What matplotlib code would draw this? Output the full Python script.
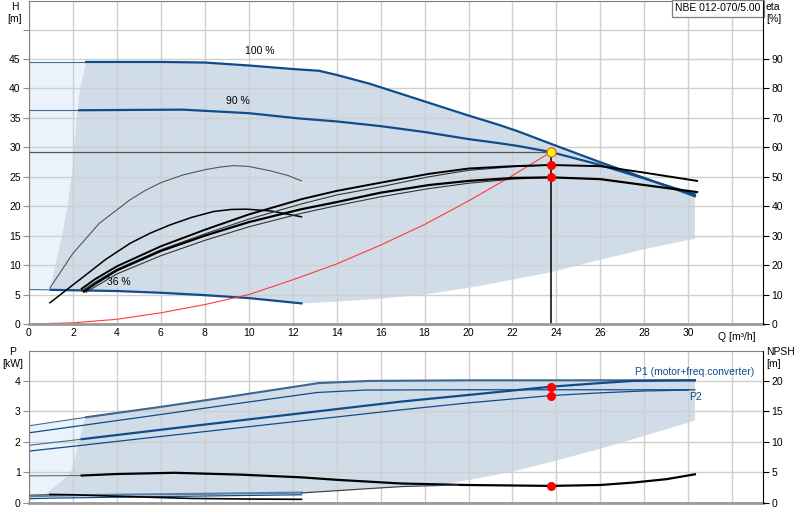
import numpy as np
import matplotlib
matplotlib.use("Agg")
import matplotlib.pyplot as plt

plt.rcParams["font.family"] = ["Liberation Sans", "DejaVu Sans"]
plt.rcParams["font.size"] = 7.5
plt.rcParams["lines.solid_joinstyle"] = "round"

# ── Head curves (Q in m³/h, H in m) ───────────────────────────────────────
q_100 = [0, 2.6, 6, 8, 10, 12, 13.2, 14, 15.5, 18, 20, 21.4, 22.3, 23.75, 25.9, 28, 30.3]
h_100 = [44.5, 44.5, 44.5, 44.4, 43.9, 43.3, 43.0, 42.3, 40.8, 37.8, 35.4, 33.8, 32.65, 30.6, 27.6, 24.8, 21.7]
q_90 = [0, 2.3, 7, 10, 12.3, 14, 16, 18, 20, 21.4, 22.3, 23.75, 25.9, 28, 30.3]
h_90 = [36.3, 36.3, 36.4, 35.8, 34.9, 34.4, 33.6, 32.6, 31.4, 30.7, 30.2, 29.2, 27.1, 24.7, 22.0]
q_36 = [0, 1, 4, 6, 8, 10, 12.4]
h_36 = [5.85, 5.8, 5.6, 5.3, 4.9, 4.4, 3.5]

# working range boundaries (H)
lb_q = [0.95, 1.2, 1.5, 1.75, 2.0, 2.05, 2.17, 2.32, 2.6]
lb_h = [6.0, 10, 15, 20, 27, 30, 35, 40, 44.5]
bot_q = [30.3, 28, 26, 23.75, 20.5, 18, 16, 14, 12.4]
bot_h = [14.5, 12.7, 10.9, 8.8, 6.45, 5.0, 4.3, 3.8, 3.5]

# system curve
q_sys = [0, 2, 4, 6, 8, 10, 12, 14, 16, 18, 20, 22, 23.75]
h_sys = [0, 0.2, 0.8, 1.9, 3.3, 5.0, 7.5, 10.2, 13.4, 16.9, 20.9, 25.2, 29.2]

# duty point
q_duty = 23.75
h_duty = 29.2

# ── Efficiency curves (eta in %) ──────────────────────────────────────────
q_e1 = [0.95, 2, 3.2, 4.6, 5.3, 6, 7, 8, 8.7, 9.3, 10, 11, 11.8, 12.4]
eta_e1 = [12.2, 24.0, 34.2, 42.2, 45.4, 48.0, 50.6, 52.4, 53.3, 53.8, 53.5, 52.0, 50.4, 48.6]
q_e2 = [0.95, 2.47, 3.5, 4.6, 5.5, 6.4, 7.4, 8.4, 9.2, 9.9, 11, 12.4]
eta_e2 = [7.2, 16.0, 22.0, 27.4, 30.8, 33.6, 36.2, 38.2, 38.9, 39.0, 38.4, 36.4]
q_ea = [2.4, 3, 4, 6, 8, 10, 12.4, 14, 16, 18.2, 20, 22, 23.75, 26, 28, 30.4]
eta_ea = [12.0, 15.2, 19.6, 26.4, 32.0, 37.2, 42.4, 45.2, 48.0, 51.0, 52.8, 53.6, 54.0, 53.6, 51.4, 48.6]
q_eb = [2.4, 3, 4, 6, 8, 10, 12.4, 14, 16, 18.2, 20, 22, 23.75]
eta_eb = [11.2, 14.2, 18.6, 25.2, 30.6, 35.6, 40.8, 43.8, 46.6, 50.0, 52.2, 53.4, 54.0]
q_ec = [2.5, 3, 4, 6, 8, 10, 12.4, 14, 16, 18.2, 20, 22, 23.75, 26, 28, 30.4]
eta_ec = [11.0, 13.6, 18.2, 24.8, 30.0, 34.6, 39.0, 41.4, 44.6, 47.2, 48.6, 49.6, 49.8, 49.2, 47.2, 44.8]
q_ed = [2.6, 3, 4, 6, 8, 10, 12.4, 14, 16, 18.2, 20, 22, 23.75]
eta_ed = [10.8, 12.6, 17.0, 23.2, 28.4, 33.0, 37.6, 40.2, 43.2, 46.0, 47.8, 49.2, 49.8]
eta_duty = [54.0, 49.8]

# ── Power curves (P in kW) ────────────────────────────────────────────────
q_p1max = [0, 2.6, 6, 9, 12, 13.2, 15.5, 20, 30.3]
p_p1max = [2.53, 2.81, 3.15, 3.47, 3.8, 3.93, 4.0, 4.02, 4.02]
q_p2max = [0, 2.6, 6, 9, 12, 13.1, 15.3, 20, 30.3]
p_p2max = [2.3, 2.56, 2.9, 3.21, 3.51, 3.62, 3.70, 3.71, 3.71]
q_p1 = [0, 2.4, 6, 10, 16.9, 20, 23.75, 26, 27.5, 30.3]
p_p1 = [1.89, 2.09, 2.4, 2.74, 3.32, 3.54, 3.81, 3.93, 4.0, 4.02]
q_p2 = [0, 2.4, 6, 10, 16.9, 20, 23.75, 26, 28, 30.0]
p_p2 = [1.70, 1.89, 2.18, 2.5, 3.05, 3.28, 3.52, 3.61, 3.67, 3.70]
q_pmin = [0, 1, 4, 8, 12.4]
p_p1min = [0.22, 0.24, 0.27, 0.3, 0.34]
p_p2min = [0.14, 0.16, 0.19, 0.23, 0.27]
p_duty = [3.81, 3.52]

# working range boundaries (P)
plb_q = [0.6, 0.75, 1.2, 1.6, 1.9, 2.1, 2.3, 2.45, 2.6]
plb_p = [0.22, 0.3, 0.55, 0.8, 1.0, 1.5, 2.1, 2.5, 2.81]
pbot_q = [30.3, 28, 26, 24.1, 22, 20, 19, 17, 15, 12.4, 8, 4, 1, 0.6]
pbot_p = [2.7, 2.2, 1.78, 1.41, 1.03, 0.75, 0.63, 0.54, 0.45, 0.33, 0.3, 0.27, 0.24, 0.22]

# ── NPSH curves (m) ───────────────────────────────────────────────────────
q_npsh = [0, 2.4, 4, 6.6, 9.6, 12.4, 14, 16.9, 19.9, 23.75, 26, 27.5, 29, 30.3]
npsh = [4.45, 4.5, 4.75, 4.95, 4.65, 4.2, 3.8, 3.2, 2.95, 2.8, 2.95, 3.35, 3.9, 4.7]
q_npsh_min = [0, 0.95, 2, 4, 7.4, 10, 12.4]
npsh_min = [1.3, 1.4, 1.35, 1.1, 0.75, 0.65, 0.6]
q_npsh_env = [12.4, 15, 17, 19.5]
npsh_env = [1.65, 2.25, 2.7, 2.95]
npsh_duty = 2.8

BLUE = "#0f4c8a"
EDGE = "#4a6a8c"
FILL = "#d0dce8"
LIGHT = "#eaf3fc"
GRID = "#cfcfcf"

fig = plt.figure(figsize=(8, 5.2), dpi=100)
ax_h = fig.add_axes([29 / 800, 1 - 324 / 520, 734 / 800, 323 / 520])
ax_p = fig.add_axes([29 / 800, 1 - 503 / 520, 734 / 800, 152 / 520])


def style_axes(ax, ymax, yticks, show_x):
    ax.set_xlim(0, 33.4)
    ax.set_ylim(0, ymax)
    ax.set_xticks(np.arange(0, 34, 2))
    ax.set_yticks(yticks)
    ax.grid(True, color=GRID, linewidth=1)
    ax.set_axisbelow("line")
    ax.tick_params(axis="y", direction="out", length=4, color="#909090", pad=2)
    ax.tick_params(axis="x", length=0, pad=3, labelbottom=show_x)
    for s in ["top", "left"]:
        ax.spines[s].set_color("#808080")
    ax.spines["bottom"].set_color("#999999")
    ax.spines["bottom"].set_linewidth(2)
    ax.spines["right"].set_visible(False)


def style_twin(ax, ymax, yticks):
    ax.set_ylim(0, ymax)
    ax.set_yticks(yticks)
    ax.tick_params(axis="y", direction="out", length=4, color="black", pad=2)
    for s in ["top", "left", "bottom"]:
        ax.spines[s].set_visible(False)
    ax.spines["right"].set_color("black")


# ── Top panel: H ──────────────────────────────────────────────────────────
style_axes(ax_h, 54.85, np.arange(0, 55, 5), True)
ax_h.set_yticklabels([str(v) if v <= 45 else "" for v in range(0, 55, 5)])
ax_h.set_xticklabels([str(v) if v <= 30 else "" for v in range(0, 34, 2)])
ax_h.text(32.2, -0.025, "Q [m³/h]", transform=ax_h.get_xaxis_transform(),
          ha="center", va="top")

i0 = q_100.index(2.6)
ax_h.fill([0] + lb_q[::-1] + [0], [44.5] + lb_h[::-1] + [h_36[0]],
          color=LIGHT, lw=0, zorder=0.5)
dark_q = q_100[i0:] + bot_q + q_36[::-1][:-1] + lb_q
dark_h = h_100[i0:] + bot_h + h_36[::-1][:-1] + lb_h
ax_h.fill(dark_q, dark_h, color=FILL, lw=0, zorder=0.6)

for q, h, start in [(q_100, h_100, 2.6), (q_90, h_90, 2.3), (q_36, h_36, 1)]:
    k = q.index(start)
    ax_h.plot(q[:k + 1], h[:k + 1], color=EDGE, lw=0.8)
    ax_h.plot(q[k:], h[k:], color=BLUE, lw=1.6)

ax_h.plot([0, q_duty], [h_duty, h_duty], color="#555555", lw=0.9)
ax_h.plot([q_duty, q_duty], [0, h_duty], color="black", lw=1.1)
ax_h.plot(q_sys, h_sys, color="#ff3b3b", lw=0.8)

ax_h.text(10.5, 46.3, "100 %", ha="center", va="center")
ax_h.text(9.5, 37.9, "90 %", ha="center", va="center")
ax_h.text(3.55, 7.1, "36 %", ha="left", va="center")
ax_h.text(0.997, 0.993, "NBE 012-070/5.00", transform=ax_h.transAxes,
          ha="right", va="top", fontsize=7.5,
          bbox=dict(boxstyle="square,pad=0.35", fc="white", ec="#808080", lw=0.9))

ax_eta = ax_h.twinx()
style_twin(ax_eta, 109.7, np.arange(0, 100, 10))
ax_eta.plot(q_e1, eta_e1, color="#555555", lw=0.8)
ax_eta.plot(q_e2, eta_e2, color="black", lw=1.1)
ax_eta.plot(q_eb, eta_eb, color="#333333", lw=0.8)
ax_eta.plot(q_ed, eta_ed, color="#333333", lw=0.8)
ax_eta.plot(q_ea, eta_ea, color="black", lw=1.4)
ax_eta.plot(q_ec, eta_ec, color="black", lw=1.6)
ax_eta.plot([q_duty] * 2, eta_duty, "o", color="#ff0000", ms=5.5, zorder=5)
# duty point drawn on the head axis scale, placed above the twin
ax_eta.plot(q_duty, h_duty, "o", mfc="#ffff00", mec="#ff5a2a", mew=0.9, ms=6.5,
            zorder=6, transform=ax_h.transData)

# ── Bottom panel: P / NPSH ────────────────────────────────────────────────
style_axes(ax_p, 4.98, np.arange(0, 5, 1), False)

j0 = q_p1max.index(2.6)
ax_p.fill(q_p1max[:j0 + 1] + plb_q[::-1] + [0],
          p_p1max[:j0 + 1] + plb_p[::-1] + [0.25],
          color=LIGHT, lw=0, zorder=0.5)
ax_p.fill(q_p1max[j0:] + pbot_q + plb_q, p_p1max[j0:] + pbot_p + plb_p,
          color=FILL, lw=0, zorder=0.6)

ax_p.plot(q_p1max[:j0 + 1], p_p1max[:j0 + 1], color=EDGE, lw=0.8)
ax_p.plot(q_p1max[j0:], p_p1max[j0:], color="#3d6690", lw=1.5)
ax_p.plot(q_p2max, p_p2max, color=BLUE, lw=0.9)
ax_p.plot(q_p1[:2], p_p1[:2], color=EDGE, lw=0.8)
ax_p.plot(q_p1[1:], p_p1[1:], color=BLUE, lw=1.6)
ax_p.plot(q_p2, p_p2, color=BLUE, lw=0.9)
ax_p.plot(q_pmin, p_p1min, color="#5f7fa0", lw=1.6)
ax_p.plot(q_pmin, p_p2min, color=BLUE, lw=0.9)
ax_p.plot([q_duty] * 2, p_duty, "o", color="#ff0000", ms=5.5, zorder=5)

ax_p.text(33.0, 4.3, "P1 (motor+freq.converter)", color=BLUE, ha="right",
          va="center")
ax_p.text(30.05, 3.47, "P2", color=BLUE, ha="left", va="center")

ax_n = ax_p.twinx()
style_twin(ax_n, 24.9, np.arange(0, 25, 5))
ax_n.plot(q_npsh[:2], npsh[:2], color="#666666", lw=0.8)
ax_n.plot(q_npsh[1:], npsh[1:], color="black", lw=1.6)
ax_n.plot(q_npsh_min[:2], npsh_min[:2], color="#666666", lw=0.8)
ax_n.plot(q_npsh_min[1:], npsh_min[1:], color="black", lw=1.2)
ax_n.plot(q_npsh_env, npsh_env, color="#444444", lw=0.9)
ax_n.plot(q_duty, npsh_duty, "o", color="#ff0000", ms=5.5, zorder=5)

# axis unit labels
fig.text(15 / 800, 1 - 2 / 520, "H\n[m]", ha="center", va="top", linespacing=1.3)
fig.text(766 / 800, 1 - 2 / 520, "eta\n[%]", ha="left", va="top", linespacing=1.3)
fig.text(13 / 800, 1 - 347 / 520, "P\n[kW]", ha="center", va="top", linespacing=1.3)
fig.text(766 / 800, 1 - 347 / 520, "NPSH\n[m]", ha="left", va="top", linespacing=1.3)

fig.savefig("out.png", dpi=100)
